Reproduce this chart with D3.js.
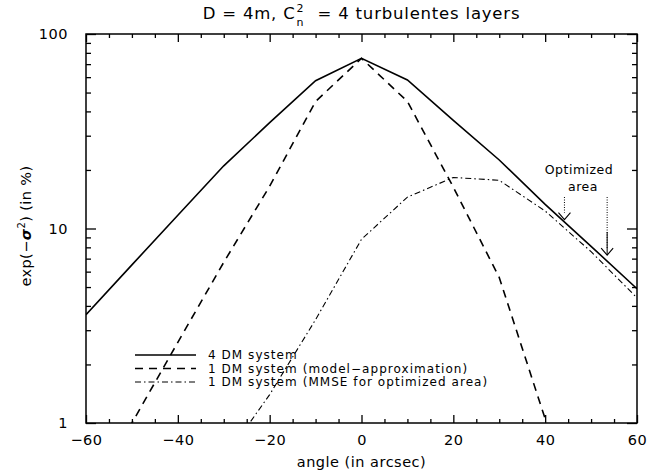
<!DOCTYPE html>
<html><head><meta charset="utf-8">
<script src="https://cdn.jsdelivr.net/npm/d3@7"></script>
<style>
body{margin:0;background:#fff;}
svg{display:block;}
text{font-family:"DejaVu Sans",sans-serif;fill:#000;}
</style></head>
<body><svg id="c" width="664" height="476"></svg>
<script>
const angles = [-60,-50,-40,-30,-20,-10,0,10,20,30,40,50,60];
const dm4 = [3.6,6.5,11.7,21,35,57.5,75,58,36,22.5,13.3,8.1,4.9];
const dm1Model = [0.4,1.0,2.6,6.7,16.5,45,75,45,16.3,5.6,1.05,0.2,0.05];
const dm1Mmse = [0.1,0.2,0.35,0.65,1.4,3.4,8.8,14.5,18.3,17.7,12.3,7.6,4.4];
const xTicks = [-60,-40,-20,0,20,40,60];
const yTicks = [1,10,100];
const legendLabels = ["4 DM system","1 DM system (model\u2212approximation)","1 DM system (MMSE for optimized area)"];
const arrowAngles = [44.2,53.5];
const arrowTips = [11.1,7.3];

const W=664,H=476;
const m={l:86,r:637,t:34,b:423};
const svg=d3.select("#c");
const x=d3.scaleLinear().domain([-60,60]).range([m.l,m.r]);
const y=d3.scaleLog().domain([1,100]).range([m.b,m.t]);

svg.append("defs").append("clipPath").attr("id","clip").append("rect")
  .attr("x",m.l).attr("y",m.t).attr("width",m.r-m.l).attr("height",m.b-m.t);

const xMinor=d3.range(-60,61,5).filter(v=>v%20!==0);
const yMinor=[];[1,10].forEach(d=>{for(let k=2;k<10;k++)yMinor.push(d*k);});
const fmt=d=>d<0?"\u2212"+Math.abs(d):String(d);

function axisStyle(g){g.select(".domain").remove();g.selectAll("line").attr("stroke","#000").attr("stroke-width",1.3);}
svg.append("g").attr("transform",`translate(0,${m.b})`).call(d3.axisBottom(x).tickValues(xTicks).tickSize(-8).tickFormat(fmt).tickPadding(12)).call(axisStyle)
  .selectAll("text").attr("font-size",14.5).attr("fill","#000").attr("letter-spacing",0.5);
svg.append("g").attr("transform",`translate(0,${m.b})`).call(d3.axisBottom(x).tickValues(xMinor).tickSize(-4).tickFormat("")).call(axisStyle);
svg.append("g").attr("transform",`translate(0,${m.t})`).call(d3.axisTop(x).tickValues(xTicks).tickSize(-8).tickFormat("")).call(axisStyle);
svg.append("g").attr("transform",`translate(0,${m.t})`).call(d3.axisTop(x).tickValues(xMinor).tickSize(-4).tickFormat("")).call(axisStyle);
svg.append("g").attr("transform",`translate(${m.l},0)`).call(d3.axisLeft(y).tickValues(yTicks).tickSize(-10).tickFormat(d3.format("d")).tickPadding(18)).call(axisStyle)
  .selectAll("text").attr("font-size",14.5).attr("fill","#000").attr("letter-spacing",0.5);
svg.append("g").attr("transform",`translate(${m.l},0)`).call(d3.axisLeft(y).tickValues(yMinor).tickSize(-5).tickFormat("")).call(axisStyle);
svg.append("g").attr("transform",`translate(${m.r},0)`).call(d3.axisRight(y).tickValues(yTicks).tickSize(-10).tickFormat("")).call(axisStyle);
svg.append("g").attr("transform",`translate(${m.r},0)`).call(d3.axisRight(y).tickValues(yMinor).tickSize(-5).tickFormat("")).call(axisStyle);
svg.append("rect").attr("x",m.l).attr("y",m.t).attr("width",m.r-m.l).attr("height",m.b-m.t)
  .attr("fill","none").attr("stroke","#000").attr("stroke-width",1.5);

const series=[
  {v:dm4,dash:null,w:1.6},
  {v:dm1Model,dash:"8,6",w:1.6},
  {v:dm1Mmse,dash:"6,3,1.5,3",w:1.1}
];
const line=d3.line().x(d=>x(d[0])).y(d=>y(Math.max(d[1],0.01)));
const plot=svg.append("g").attr("clip-path","url(#clip)");
series.forEach(s=>{
  plot.append("path").datum(angles.map((a,i)=>[a,s.v[i]])).attr("d",line)
    .attr("fill","none").attr("stroke","#000").attr("stroke-width",s.w)
    .attr("stroke-dasharray",s.dash);
});

const lg=svg.append("g");
legendLabels.forEach((t,i)=>{
  const yy=355+i*13.5;
  lg.append("line").attr("x1",135).attr("x2",196).attr("y1",yy).attr("y2",yy)
    .attr("stroke","#000").attr("stroke-width",series[i].w).attr("stroke-dasharray",series[i].dash);
  lg.append("text").attr("x",208).attr("y",yy+4.3).attr("font-size",12).attr("letter-spacing",1.05).text(t);
});

svg.append("text").attr("x",579).attr("y",174).attr("text-anchor","middle").attr("font-size",12.5).attr("letter-spacing",0.5).text("Optimized");
svg.append("text").attr("x",583).attr("y",191).attr("text-anchor","middle").attr("font-size",12.5).attr("letter-spacing",0.5).text("area");
arrowAngles.forEach((a,i)=>{
  const ax=x(a), tip=y(arrowTips[i]);
  svg.append("line").attr("x1",ax).attr("x2",ax).attr("y1",197).attr("y2",tip-7)
    .attr("stroke","#000").attr("stroke-width",1).attr("stroke-dasharray","1,1.5");
  if(i===1) svg.append("line").attr("x1",ax).attr("x2",ax).attr("y1",232).attr("y2",tip)
    .attr("stroke","#000").attr("stroke-width",1);
  svg.append("path").attr("d",`M${ax-6},${tip-7}L${ax},${tip}L${ax+6},${tip-7}`)
    .attr("fill","none").attr("stroke","#000").attr("stroke-width",1.1);
});

// title as one text element with tspans
const part1="D = 4m, C", part2="\u00a0 = 4 turbulentes layers";
const meas=svg.append("text").attr("font-size",16.5).attr("letter-spacing",0.8);
const w1=meas.text(part1).node().getComputedTextLength();
const w2=meas.text(part2).node().getComputedTextLength();
meas.attr("font-size",11).attr("letter-spacing",0);
const ws=Math.max(meas.text("2").node().getComputedTextLength(),meas.text("n").node().getComputedTextLength());
meas.remove();
const total=w1+ws+3+w2, x0=361.5-total/2;
const tt=svg.append("text").attr("y",19).attr("font-size",16.5);
tt.append("tspan").attr("x",x0).attr("letter-spacing",0.8).text(part1);
tt.append("tspan").attr("x",x0+w1+1).attr("dy",-7).attr("font-size",11).text("2");
tt.append("tspan").attr("x",x0+w1+1).attr("dy",14).attr("font-size",11).text("n");
tt.append("tspan").attr("x",x0+w1+ws+3).attr("dy",-7).attr("letter-spacing",0.8).text(part2);

svg.append("text").attr("x",361.5).attr("y",467).attr("text-anchor","middle").attr("font-size",14.5).attr("letter-spacing",0.5).text("angle (in arcsec)");
const yl=svg.append("text").attr("transform","translate(31,226) rotate(-90)").attr("text-anchor","middle").attr("font-size",14.5).attr("letter-spacing",0.4);
yl.append("tspan").text("exp(\u2212");
yl.append("tspan").attr("font-weight","bold").attr("font-style","italic").text("\u03c3");
yl.append("tspan").attr("dy",-6).attr("font-size",10).text("2");
yl.append("tspan").attr("dy",6).text(") (in %)");
</script></body></html>
